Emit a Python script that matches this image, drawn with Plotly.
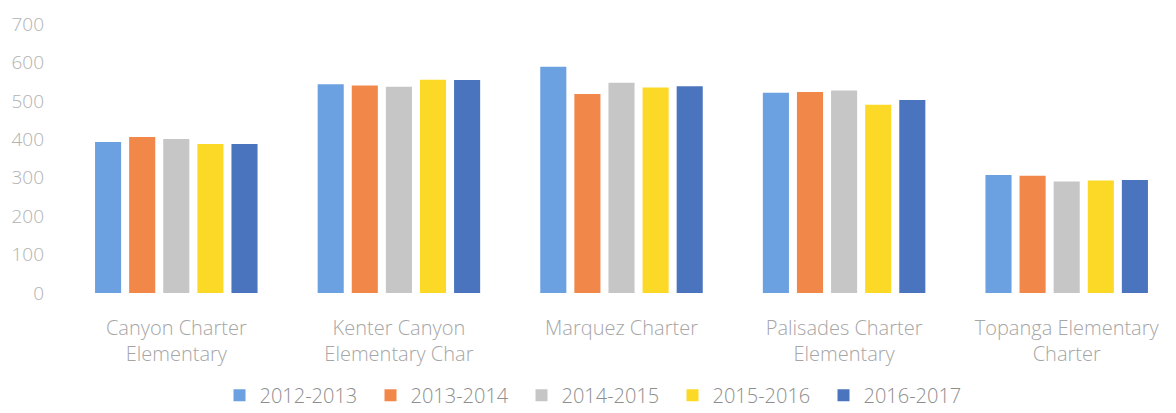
import plotly.graph_objects as go

schools = ["Canyon Charter<br>Elementary", "Kenter Canyon<br>Elementary Char", "Marquez Charter",
           "Palisades Charter<br>Elementary", "Topanga Elementary<br>Charter"]
years = ["2012-2013", "2013-2014", "2014-2015", "2015-2016", "2016-2017"]
v_2012 = [393, 543, 589, 521, 307]
v_2013 = [406, 540, 518, 523, 305]
v_2014 = [401, 537, 547, 527, 290]
v_2015 = [388, 555, 535, 490, 293]
v_2016 = [388, 554, 538, 502, 294]
series = [v_2012, v_2013, v_2014, v_2015, v_2016]
colors = ["#6BA1E0", "#F2874A", "#C6C6C6", "#FDD927", "#4B74BE"]

fig = go.Figure()
for name, vals, c in zip(years, series, colors):
    fig.add_trace(go.Bar(x=schools, y=vals, name=name, marker_color=c, marker_line_width=0))

fig.update_layout(
    width=1176, height=413,
    margin=dict(l=57, r=6, t=16, b=120),
    paper_bgcolor="white", plot_bgcolor="white",
    barmode="group", bargap=0.234, bargroupgap=0.235,
    font=dict(family="Open Sans", color="#A8A8A8", size=20, weight=300),
    showlegend=True,
    legend=dict(orientation="h", x=0.478, xanchor="center", y=-0.38, yanchor="middle",
                font=dict(size=20, color="#8E8E8E", weight=300), entrywidth=106, traceorder="normal"),
)
fig.update_yaxes(range=[0, 700], dtick=100, showgrid=False, zeroline=False, showline=False,
                 automargin=False, ticklabeloverflow="allow",
                 ticks="", ticklabelstandoff=20, tickfont=dict(size=19, color="#B2B2B2", weight=300))
fig.update_xaxes(showgrid=False, showline=False, ticks="", ticklabelstandoff=21,
                 automargin=False, ticklabeloverflow="allow",
                 tickfont=dict(size=20, color="#A6A6A6", weight=300))

fig.write_html("out.html")
